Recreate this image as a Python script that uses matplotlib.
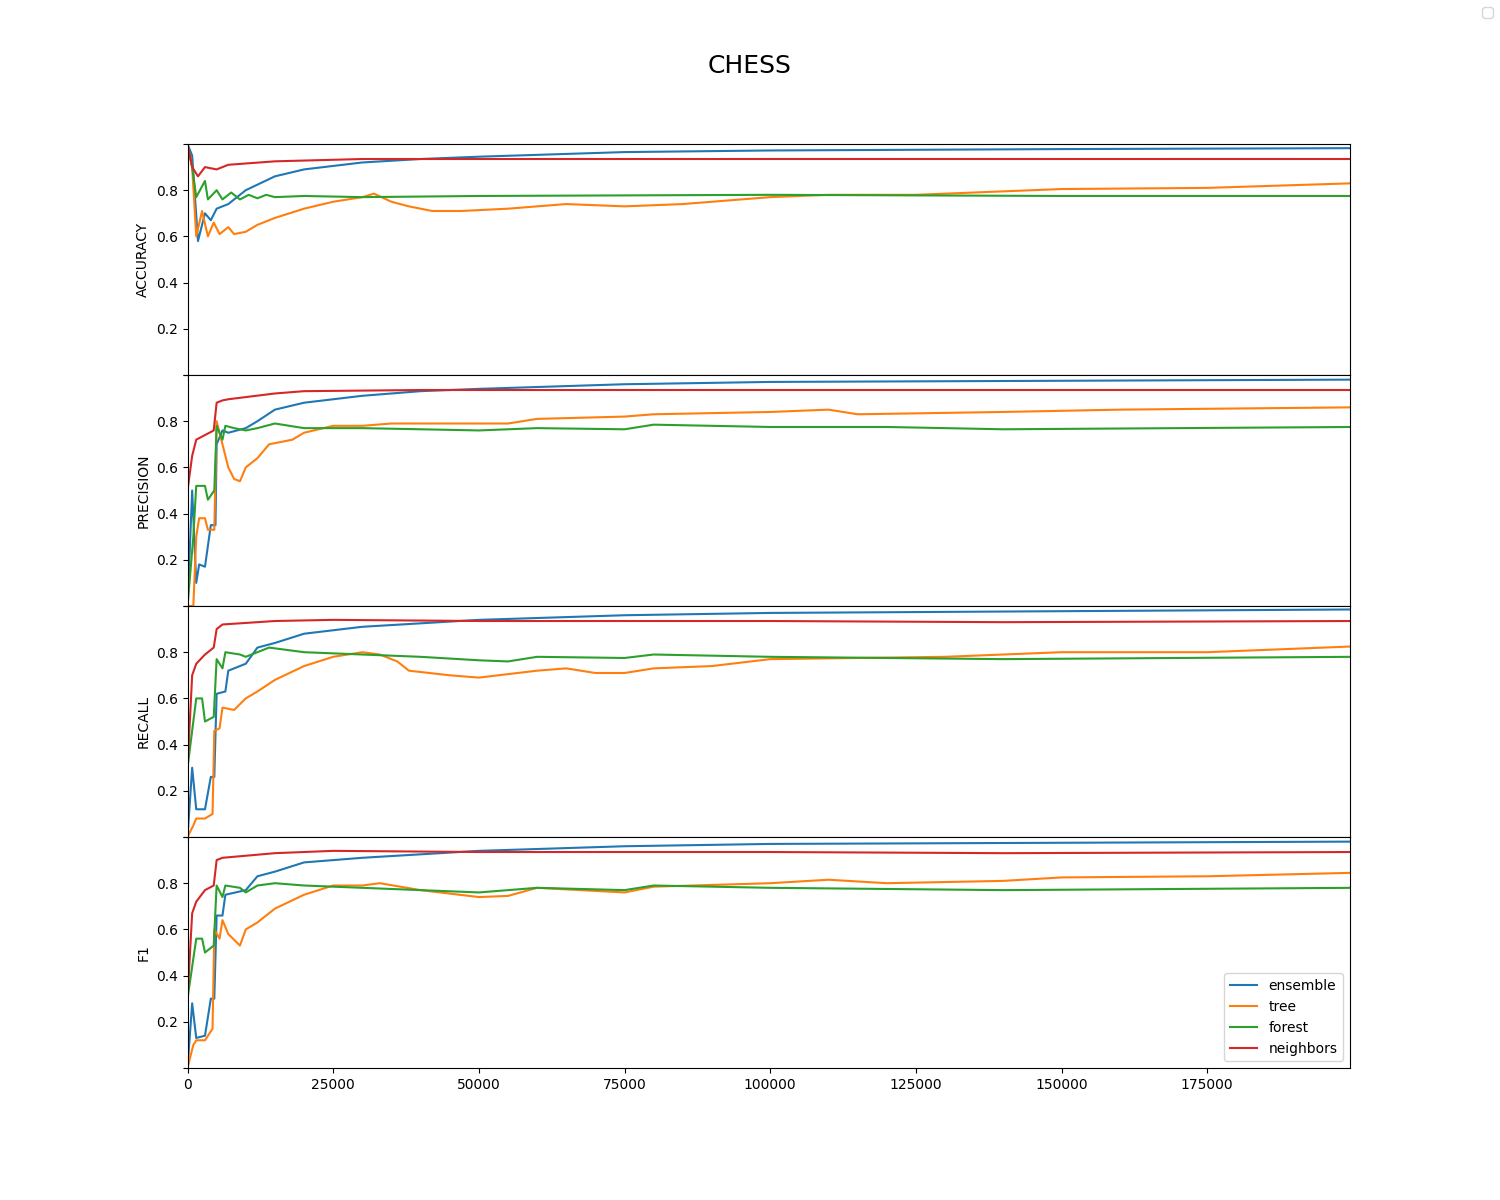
import matplotlib.pyplot as plt

metrics = ["ACCURACY", "PRECISION", "RECALL", "F1"]
models = ["ensemble", "tree", "forest", "neighbors"]

# x in thousands of samples, y metric value
accuracy = {
    "ensemble": ([0, 0.8, 1.8, 3, 4, 5, 7, 10, 15, 20, 30, 40, 50, 75, 100, 150, 200],
                 [1, 0.95, 0.58, 0.70, 0.67, 0.72, 0.74, 0.80, 0.86, 0.89, 0.92, 0.935, 0.945, 0.965, 0.972, 0.978, 0.982]),
    "tree": ([0, 0.8, 1.5, 2.5, 3.5, 4.5, 5.5, 7, 8, 10, 12, 15, 20, 25, 30, 32, 35, 38, 42, 47, 55, 65, 75, 85, 100, 110, 125, 150, 175, 200],
             [1, 0.9, 0.6, 0.71, 0.6, 0.66, 0.61, 0.64, 0.61, 0.62, 0.65, 0.68, 0.72, 0.75, 0.77, 0.785, 0.75, 0.73, 0.71, 0.71, 0.72, 0.74, 0.73, 0.74, 0.77, 0.78, 0.78, 0.805, 0.81, 0.83]),
    "forest": ([0, 0.8, 1.5, 3, 3.5, 5, 6, 7.5, 9, 10.5, 12, 13.5, 15, 20, 30, 50, 100, 150, 200],
               [1, 0.9, 0.77, 0.84, 0.76, 0.80, 0.76, 0.79, 0.76, 0.78, 0.765, 0.78, 0.77, 0.775, 0.77, 0.775, 0.78, 0.775, 0.775]),
    "neighbors": ([0, 0.8, 1.8, 3, 5, 7, 15, 30, 50, 100, 200],
                  [1, 0.9, 0.86, 0.9, 0.89, 0.91, 0.925, 0.935, 0.935, 0.935, 0.935]),
}

precision = {
    "ensemble": ([0, 0.8, 1.5, 2, 3, 4, 4.8, 5, 6, 7, 10, 12, 15, 20, 30, 40, 50, 75, 100, 150, 200],
                 [0, 0.5, 0.1, 0.18, 0.17, 0.35, 0.35, 0.7, 0.76, 0.75, 0.77, 0.8, 0.85, 0.88, 0.91, 0.93, 0.94, 0.96, 0.97, 0.975, 0.98]),
    "tree": ([0, 1, 1.5, 2, 3, 3.5, 4.6, 5, 6, 7, 8, 9, 10, 11, 12, 14, 18, 20, 25, 30, 35, 50, 55, 60, 75, 80, 100, 110, 115, 140, 160, 200],
             [0, 0, 0.3, 0.38, 0.38, 0.33, 0.33, 0.8, 0.7, 0.6, 0.55, 0.54, 0.6, 0.62, 0.64, 0.7, 0.72, 0.75, 0.78, 0.78, 0.79, 0.79, 0.79, 0.81, 0.82, 0.83, 0.84, 0.85, 0.83, 0.84, 0.85, 0.86]),
    "forest": ([0, 1, 1.5, 3, 3.5, 4.6, 5, 6, 6.5, 8, 10, 12, 15, 20, 30, 40, 50, 60, 75, 80, 100, 120, 140, 200],
               [0, 0.3, 0.52, 0.52, 0.46, 0.5, 0.78, 0.72, 0.78, 0.77, 0.76, 0.77, 0.79, 0.77, 0.77, 0.765, 0.76, 0.77, 0.765, 0.785, 0.775, 0.775, 0.765, 0.775]),
    "neighbors": ([0, 0.8, 1.5, 3, 4.5, 5, 6, 7, 15, 20, 40, 200],
                  [0.5, 0.65, 0.72, 0.74, 0.76, 0.88, 0.89, 0.895, 0.92, 0.93, 0.935, 0.935]),
}

recall = {
    "ensemble": ([0, 0.8, 1.5, 3, 4, 4.6, 5, 6.5, 7, 10, 12, 15, 20, 30, 50, 75, 100, 200],
                 [0, 0.3, 0.12, 0.12, 0.26, 0.26, 0.62, 0.63, 0.72, 0.75, 0.82, 0.84, 0.88, 0.91, 0.94, 0.96, 0.97, 0.985]),
    "tree": ([0, 1, 1.5, 3, 4.3, 4.6, 5.5, 6, 8, 10, 12, 15, 20, 25, 30, 33, 36, 38, 45, 50, 60, 65, 70, 75, 80, 90, 100, 130, 140, 150, 175, 200],
             [0, 0.05, 0.08, 0.08, 0.1, 0.46, 0.47, 0.56, 0.55, 0.6, 0.63, 0.68, 0.74, 0.78, 0.8, 0.79, 0.76, 0.72, 0.7, 0.69, 0.72, 0.73, 0.71, 0.71, 0.73, 0.74, 0.77, 0.78, 0.79, 0.8, 0.8, 0.825]),
    "forest": ([0, 1.5, 2.5, 3, 4.5, 5, 6, 6.5, 9, 10, 12, 14, 20, 30, 40, 50, 55, 60, 75, 80, 100, 140, 200],
               [0.3, 0.6, 0.6, 0.5, 0.52, 0.77, 0.73, 0.8, 0.79, 0.78, 0.8, 0.82, 0.8, 0.79, 0.78, 0.765, 0.76, 0.78, 0.775, 0.79, 0.78, 0.77, 0.78]),
    "neighbors": ([0, 0.8, 1.5, 3, 4.5, 5, 6, 15, 25, 50, 100, 140, 200],
                  [0.3, 0.7, 0.75, 0.79, 0.82, 0.9, 0.92, 0.935, 0.94, 0.935, 0.935, 0.93, 0.935]),
}

f1 = {
    "ensemble": ([0, 0.8, 1.5, 3, 4, 4.6, 5, 6, 6.5, 10, 12, 15, 20, 30, 50, 75, 100, 200],
                 [0, 0.28, 0.13, 0.14, 0.3, 0.3, 0.66, 0.66, 0.75, 0.77, 0.83, 0.85, 0.89, 0.91, 0.94, 0.96, 0.97, 0.98]),
    "tree": ([0, 1, 1.5, 3, 4.3, 4.6, 5.5, 6, 7, 9, 10, 12, 15, 20, 25, 30, 33, 40, 50, 55, 60, 75, 80, 100, 110, 120, 140, 150, 175, 200],
             [0, 0.1, 0.12, 0.12, 0.17, 0.6, 0.56, 0.64, 0.58, 0.53, 0.6, 0.63, 0.69, 0.75, 0.79, 0.79, 0.8, 0.77, 0.74, 0.745, 0.78, 0.76, 0.785, 0.8, 0.815, 0.8, 0.81, 0.825, 0.83, 0.845]),
    "forest": ([0, 1.5, 2.5, 3, 4.5, 5, 6, 6.5, 9, 10, 12, 15, 20, 30, 50, 60, 75, 80, 100, 140, 200],
               [0.3, 0.56, 0.56, 0.5, 0.53, 0.79, 0.74, 0.79, 0.78, 0.76, 0.79, 0.8, 0.79, 0.78, 0.76, 0.78, 0.77, 0.79, 0.78, 0.77, 0.78]),
    "neighbors": ([0, 0.8, 1.5, 3, 4.5, 5, 6, 15, 25, 50, 100, 140, 200],
                  [0.3, 0.67, 0.72, 0.77, 0.79, 0.9, 0.91, 0.93, 0.94, 0.935, 0.935, 0.93, 0.935]),
}

all_data = [accuracy, precision, recall, f1]

fig, axes = plt.subplots(4, 1, figsize=(15, 12), sharex=True)
fig.subplots_adjust(left=0.125, right=0.9, top=0.88, bottom=0.11, hspace=0)
fig.suptitle("CHESS", fontsize=18, y=0.955)

for ax, name, data in zip(axes, metrics, all_data):
    for m in models:
        xs, ys = data[m]
        ax.plot([x * 1000 for x in xs], ys, label=m)
    ax.set_ylabel(name)
    ax.set_ylim(0, 1)
    ax.set_yticks([0, 0.2, 0.4, 0.6, 0.8, 1.0])
    ax.set_yticklabels(["", "0.2", "0.4", "0.6", "0.8", ""])

axes[-1].set_xlim(0, 199500)
axes[-1].set_xticks([0, 25000, 50000, 75000, 100000, 125000, 150000, 175000])
axes[-1].set_xticklabels(["0", "25000", "50000", "75000", "100000", "125000", "150000", "175000"])
axes[-1].legend(loc="lower right")
fig.legend(handles=[], loc="upper right")

fig.savefig("out.png", dpi=100)
